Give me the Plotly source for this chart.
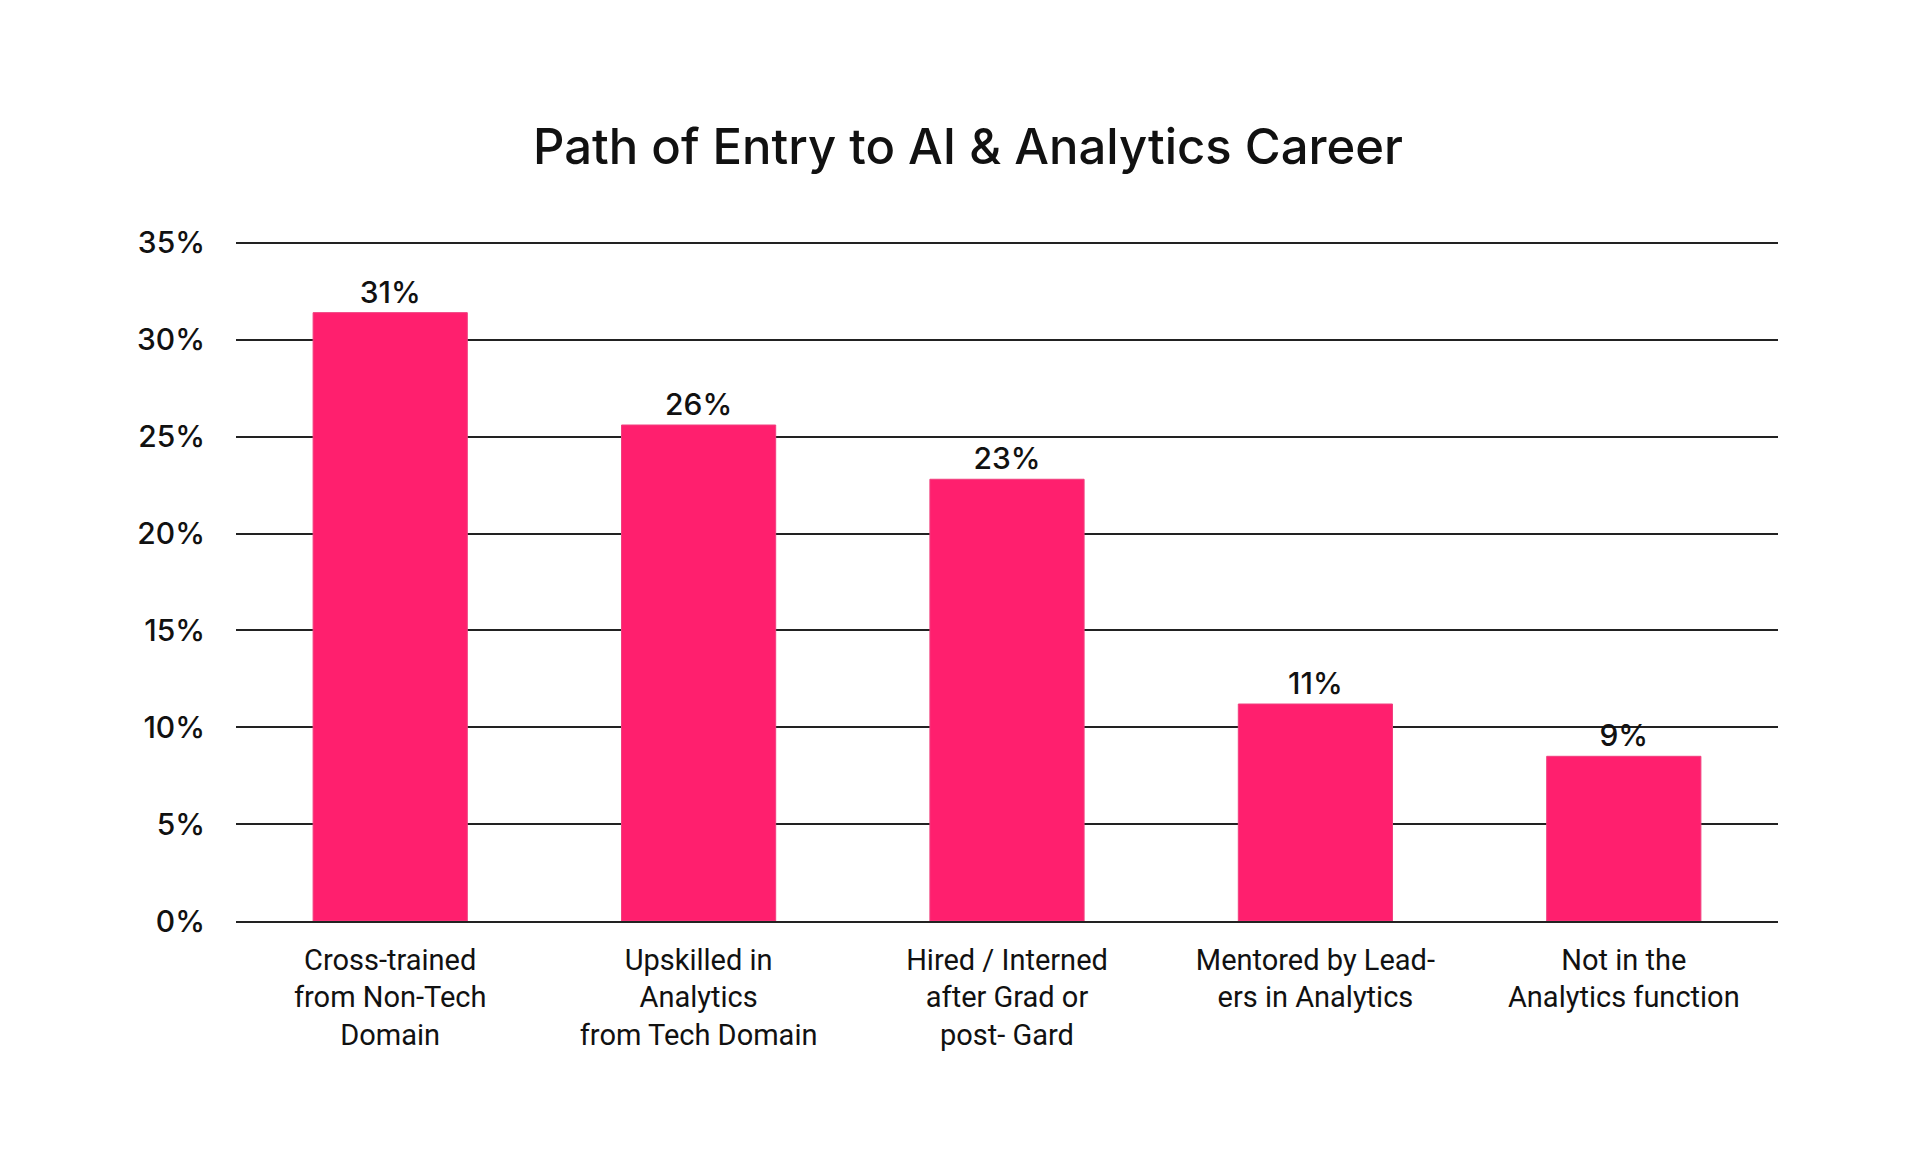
import plotly.graph_objects as go

categories = [
    "Cross-trained<br>from Non-Tech<br>Domain",
    "Upskilled in<br>Analytics<br>from Tech Domain",
    "Hired / Interned<br>after Grad or<br>post- Gard",
    "Mentored by Lead-<br>ers in Analytics",
    "Not in the<br>Analytics function",
]
shares = [31.4, 25.6, 22.8, 11.2, 8.5]
share_labels = ["31%", "26%", "23%", "11%", "9%"]
y_ticks = [0, 5, 10, 15, 20, 25, 30, 35]
y_tick_labels = ["0%", "5%", "10%", "15%", "20%", "25%", "30%", "35%"]

fig = go.Figure()

fig.add_trace(go.Bar(
    x=categories,
    y=shares,
    text=share_labels,
    textposition="outside",
    textfont=dict(family="Inter", size=30, color="#111111", weight=500),
    cliponaxis=False,
    marker=dict(color="#ff1f6e", line=dict(color="#f0407f", width=1)),
    width=0.5,
))

fig.update_layout(
    title=dict(
        text="Path of Entry to AI & Analytics Career",
        font=dict(family="Inter", size=49, color="#111111", weight=500),
        x=0.5, xanchor="center", y=0.881, yanchor="middle",
    ),
    width=1920,
    height=1167,
    margin=dict(l=228, r=150, t=231, b=254),
    plot_bgcolor="white",
    paper_bgcolor="white",
    showlegend=False,
)

fig.update_yaxes(
    range=[0, 35.2],
    tickvals=y_ticks,
    ticktext=y_tick_labels,
    tickfont=dict(family="Inter", size=30, color="#111111", weight=500),
    ticklabelstandoff=30,
    showgrid=True,
    gridcolor="#222222",
    gridwidth=1.6,
    zeroline=False,
    showline=False,
)

fig.update_xaxes(
    tickfont=dict(family="Liberation Sans Narrow, Roboto, sans-serif", size=29, color="#111111"),
    ticklabelstandoff=12,
    showline=True,
    linecolor="#222222",
    linewidth=1.6,
    showgrid=False,
)

fig.write_html("out.html")
